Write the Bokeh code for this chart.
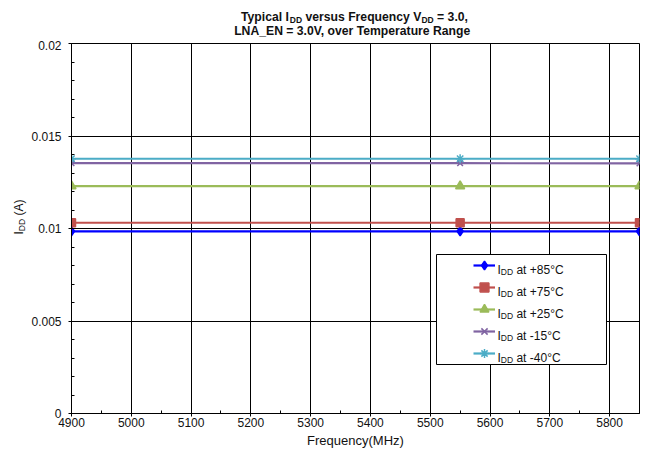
import math
from bokeh.plotting import figure
from bokeh.layouts import column, row
from bokeh.models import Range1d, FixedTicker, Legend, LegendItem, Label, BoxAnnotation
from bokeh.embed import file_html
from bokeh.resources import INLINE

# ---------------- data ----------------
freq_mhz = [4900, 5550, 5850]
idd_p85 = [0.00985, 0.00985, 0.00985]
idd_p75 = [0.01031, 0.01031, 0.01031]
idd_p25 = [0.01229, 0.01229, 0.01229]
idd_m15 = [0.01353, 0.01353, 0.01352]
idd_m40 = [0.01377, 0.01377, 0.01377]
series_temps = ["+85°C", "+75°C", "+25°C", "-15°C", "-40°C"]
series_values = [idd_p85, idd_p75, idd_p25, idd_m15, idd_m40]
series_colors = ["#0000FF", "#C0504D", "#9BBB59", "#8064A2", "#4BACC6"]
series_markers = ["diamond", "square", "triangle", "x", "asterisk"]
series_msizes = [9, 8, 9, 8, 9]

x_ticks = [4900, 5000, 5100, 5200, 5300, 5400, 5500, 5600, 5700, 5800]
x_tick_labels = ["4900", "5000", "5100", "5200", "5300", "5400", "5500", "5600", "5700", "5800"]
y_ticks = [0, 0.005, 0.01, 0.015, 0.02]
y_tick_labels = ["0", "0.005", "0.01", "0.015", "0.02"]

FONT = "Liberation Sans"
TXT = "#111111"

# Arial / Liberation Sans advance widths (per 1000 em)
REG = {' ': 278, '(': 333, ')': 333, 'A': 667, 'I': 278, 'D': 722, 'a': 556, 't': 278,
       '+': 584, '-': 333, '°': 400, 'C': 722}
BOLD = {'T': 611, 'y': 556, 'p': 611, 'i': 278, 'c': 556, 'a': 556, 'l': 278, ' ': 278,
        'I': 278, 'D': 722, 'v': 556, 'e': 556, 'r': 389, 's': 556, 'u': 611, 'F': 611,
        'q': 611, 'n': 611, 'V': 667, '=': 584, '.': 278, ',': 278, 'L': 611, 'N': 722,
        'A': 722, '_': 556, 'E': 667, 'o': 611, 'm': 889, 'g': 611, 'R': 722, 't': 333}


def text_w(s, size, bold=False):
    tab = BOLD if bold else REG
    return sum(tab.get(c, 556) for c in s) * size / 1000.0


def run(fig, segments, x0, y0, size, bold, angle=0.0, sub_size=8, sub_drop=2.5):
    """Place a run of text pieces (text, is_subscript) as screen-unit Labels."""
    pos = 0.0
    for txt, sub in segments:
        fs = sub_size if sub else size
        lead = len(txt) - len(txt.lstrip(" "))
        trail = len(txt) - len(txt.rstrip(" "))
        pos += text_w(" " * lead, fs, bold)
        t = txt.strip(" ")
        if angle == 0:
            x, y = x0 + pos, y0 - (sub_drop if sub else 0)
        else:
            x, y = x0 + (sub_drop if sub else 0), y0 + pos
        fig.add_layout(Label(x=x, y=y, x_units="screen", y_units="screen", text=t,
                             angle=angle, text_font=FONT, text_font_size=f"{fs}px",
                             text_font_style="bold" if bold else "normal",
                             text_color=TXT, text_baseline="alphabetic", text_align="left"))
        pos += text_w(t, fs, bold) + text_w(" " * trail, fs, bold)


def blank_fig(w, h):
    f = figure(frame_width=w, frame_height=h, min_border=0,
               x_range=Range1d(0, 1), y_range=Range1d(0, 1),
               x_axis_type=None, y_axis_type=None,
               output_backend="svg", toolbar_location=None)
    f.title.visible = False
    f.outline_line_color = None
    f.xgrid.visible = False
    f.ygrid.visible = False
    f.background_fill_color = "white"
    f.border_fill_color = "white"
    return f


TOTAL_W = 643
TITLE_H = 40
YLAB_W = 28
FRAME_W, FRAME_H = 568, 370
ML, MT, MR, MB = 71 - YLAB_W, 43 - TITLE_H, 4, 45
MAIN_H = MT + FRAME_H + MB

# ---------------- title strip ----------------
tfig = blank_fig(TOTAL_W, TITLE_H)
run(tfig, [("Typical I", False), ("DD", True), (" versus Frequency V", False), ("DD", True),
           (" = 3.0,", False)], 240.5, TITLE_H - 16.7, 12.2, True, sub_size=8.5)
tfig.add_layout(Label(x=351.7, y=TITLE_H - 30, x_units="screen", y_units="screen",
                      text="LNA_EN = 3.0V, over Temperature Range",
                      text_font=FONT, text_font_size="12.2px", text_font_style="bold",
                      text_color=TXT, text_align="center", text_baseline="alphabetic"))

# ---------------- y axis title strip ----------------
yfig = blank_fig(YLAB_W, MAIN_H)
run(yfig, [("I", False), ("DD", True), (" (A)", False)], 18.7, (TITLE_H + MAIN_H) - 231,
    12, False, angle=math.pi / 2, sub_size=8.5)

# ---------------- main plot ----------------
p = figure(frame_width=FRAME_W, frame_height=FRAME_H,
           min_border_left=ML, min_border_right=MR, min_border_top=MT, min_border_bottom=MB,
           x_range=Range1d(4900, 5850), y_range=Range1d(0, 0.02),
           output_backend="svg", toolbar_location=None)
p.title.visible = False
p.background_fill_color = "white"
p.border_fill_color = "white"
p.outline_line_color = "#000000"
p.outline_line_width = 1

p.xaxis.ticker = FixedTicker(ticks=x_ticks, minor_ticks=[x_ticks[0] + 50 * k for k in range(20)])
p.yaxis.ticker = FixedTicker(ticks=y_ticks, minor_ticks=[k / 1000 for k in range(21)])
p.xaxis.major_label_overrides = {t: l for t, l in zip(x_ticks, x_tick_labels)}
p.yaxis.major_label_overrides = {t: l for t, l in zip(y_ticks, y_tick_labels)}
for ax in (p.xaxis, p.yaxis):
    ax.axis_line_color = "#000000"
    ax.major_tick_line_color = "#000000"
    ax.minor_tick_line_color = "#000000"
    ax.major_tick_in = 0
    ax.major_tick_out = 3
    ax.minor_tick_in = 3
    ax.minor_tick_out = 0
    ax.major_label_text_font = FONT
    ax.major_label_text_font_size = "12px"
    ax.major_label_text_color = TXT
p.xaxis.major_label_standoff = 1
p.yaxis.major_label_standoff = 7
p.xaxis.axis_label = "Frequency(MHz)"
p.xaxis.axis_label_text_font = FONT
p.xaxis.axis_label_text_font_size = "13px"
p.xaxis.axis_label_text_font_style = "normal"
p.xaxis.axis_label_text_color = TXT
p.xaxis.axis_label_standoff = 3

p.xgrid.grid_line_color = "#000000"
p.ygrid.grid_line_color = "#000000"

legend_items = []
for temp, vals, col, mk, ms in zip(series_temps, series_values, series_colors,
                                    series_markers, series_msizes):
    ln = p.line(freq_mhz, vals, line_color=col, line_width=2.2)
    sc = p.scatter(freq_mhz, vals, marker=mk, size=ms, fill_color=col, line_color=col,
                   line_width=1.5)
    legend_items.append(LegendItem(label="\u00a0", renderers=[ln, sc]))

box = BoxAnnotation(left=365, right=535, bottom=49, top=159,
                    left_units="screen", right_units="screen",
                    bottom_units="screen", top_units="screen",
                    fill_color="white", fill_alpha=1.0,
                    line_color="#000000", line_width=1, line_alpha=1.0)
p.add_layout(box)

ROW = 22
legend = Legend(items=legend_items, location=(402, 49), orientation="vertical",
                glyph_width=22, glyph_height=ROW, label_height=ROW, label_width=10,
                spacing=0, padding=0, margin=0, label_standoff=0,
                border_line_alpha=0, background_fill_alpha=0,
                label_text_font_size="1px")
p.add_layout(legend)

for k, temp in enumerate(series_temps):
    yb = (148 - ROW * k) - 4.3
    run(p, [("I", False), ("DD", True), (" at " + temp, False)], 426, yb, 12, False,
        sub_size=8.5)

layout = column(tfig, row(yfig, p, spacing=0), spacing=0)
open("out.html", "w").write(file_html(layout, INLINE))
